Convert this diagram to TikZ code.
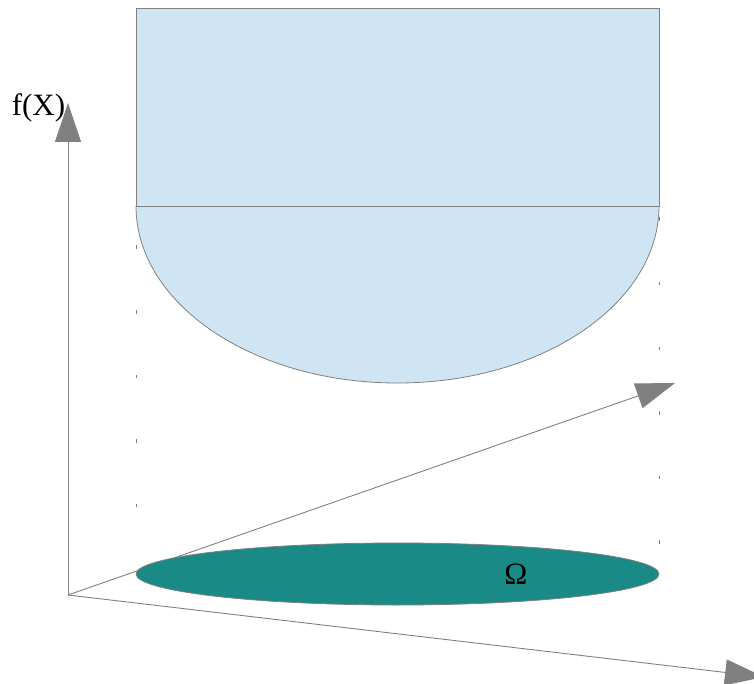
\documentclass[tikz,border=0pt]{standalone}
\usepackage{fontspec}
\setmainfont{Liberation Serif}
\usepackage{tikz}
\usetikzlibrary{shapes.geometric,arrows.meta}
\definecolor{plotgray}{HTML}{808080}
\definecolor{graphblue}{HTML}{CFE5F3}
\definecolor{domainteal}{HTML}{1A8A87}
\tikzstyle{axisarrow} = [-{Triangle[length=39pt,width=26pt]}, line width=0.9pt, plotgray]
\tikzstyle{surface} = [draw=plotgray, line width=0.8pt, fill=graphblue]
\tikzstyle{guide} = [plotgray, line width=1pt, dash pattern=on 3.5pt off 61pt]
\tikzstyle{bigtext} = [font=\fontsize{31}{34}\selectfont, inner sep=0pt]

\begin{document}
\begin{tikzpicture}[x=1pt,y=-1pt]
\useasboundingbox (0,0) rectangle (754,684);
\coordinate (origin) at (68,595);
\coordinate (ftip) at (68,103);
\coordinate (ytip) at (675,383);
\coordinate (xtip) at (764,677);
\coordinate (rim) at (136,206);
% graph of f above the domain
\draw[surface] (rim) arc[start angle=180, end angle=0, x radius=261.5, y radius=177];
\node[surface, rectangle, anchor=north west, minimum width=523pt, minimum height=198pt, inner sep=0pt] (top) at (136,8) {};
\draw[guide] (136,181) -- (136,515);
\draw[guide] (659,153) -- (659,548);
% axes
\draw[axisarrow] (origin) -- (ftip);
\draw[axisarrow] (origin) -- (ytip);
\draw[axisarrow] (origin) -- (xtip);
\node[bigtext, anchor=base] (flabel) at (38.5,116) {f(X)};
% domain
\node[ellipse, draw=plotgray, line width=0.8pt, fill=domainteal, minimum width=523pt, minimum height=62pt, inner sep=0pt] (domain) at (397.5,574) {};
\node[bigtext] (omega) at (516,574) {Ω};
\end{tikzpicture}
\end{document}
